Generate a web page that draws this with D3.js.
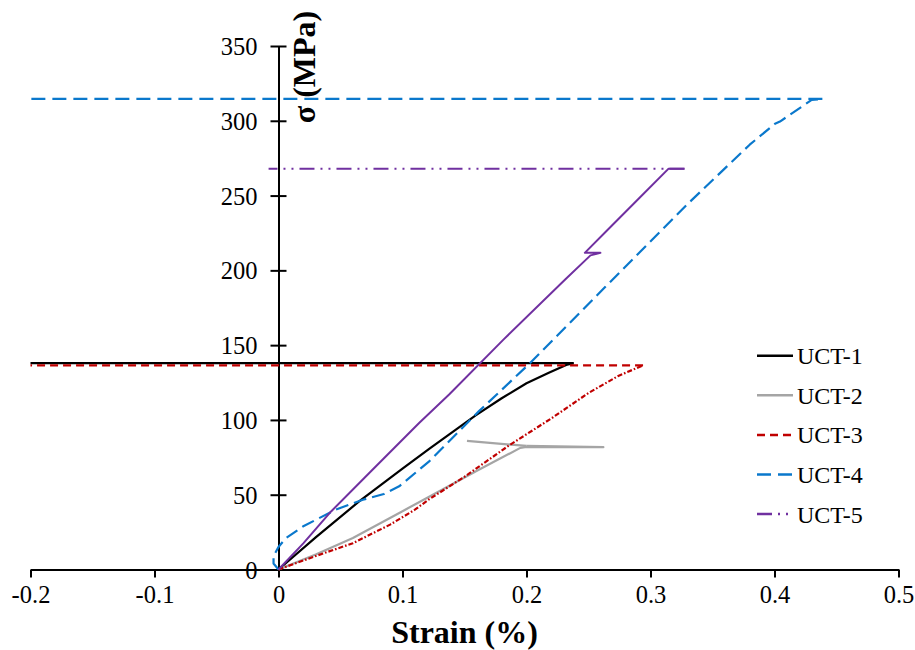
<!DOCTYPE html>
<html>
<head>
<meta charset="utf-8">
<script src="https://cdn.jsdelivr.net/npm/d3@7/dist/d3.min.js"></script>
<style>
  html, body { margin: 0; padding: 0; background: #fff; }
  svg { display: block; }
  text { font-family: "Liberation Serif", "Times New Roman", serif; fill: #000; }
</style>
</head>
<body>
<svg id="chart" width="915" height="650"></svg>
<script>
// ---------------- DATA ----------------
const seriesNames = ["UCT-1", "UCT-2", "UCT-3", "UCT-4", "UCT-5"];

const uct1Strain = [0, 0.03, 0.065, 0.1, 0.1215, 0.159, 0.18, 0.2, 0.218, 0.232, 0.238, -0.2];
const uct1Stress = [0, 21.5, 45.5, 67.5, 80.7, 103, 114.5, 124.5, 131.5, 136.8, 138, 138];

const uct2Strain = [0, 0.03, 0.06, 0.1, 0.1215, 0.16, 0.195, 0.2, 0.262, 0.2, 0.152];
const uct2Stress = [0, 10, 21, 39, 48.7, 66, 81.3, 82, 81.8, 82.6, 86];

const uct3Strain = [0, 0.01, 0.03, 0.06, 0.09, 0.11, 0.1215, 0.15, 0.186, 0.22, 0.25, 0.274, 0.294, -0.2];
const uct3Stress = [0, 3, 9, 17.6, 30, 40, 47, 62, 83, 101, 118, 129.4, 136.5, 136.5];

const uct4Strain = [0, -0.004, -0.004, 0, 0.006, 0.0196, 0.046, 0.068, 0.085, 0.0973, 0.1215, 0.1617, 0.2019, 0.2207, 0.2636, 0.3307, 0.38, 0.4004, 0.4044, 0.43, 0.4386, -0.2];
const uct4Stress = [0, 4, 9, 15, 21, 28.7, 40, 46.6, 50.5, 55.6, 72.3, 105.9, 137.2, 152.9, 189, 245, 284, 298, 299.5, 314, 314.6, 314.6];

const uct5Strain = [0, 0.02, 0.0424, 0.075, 0.1134, 0.1376, 0.1818, 0.2314, 0.2516, 0.2596, 0.247, 0.2647, 0.29, 0.3146, 0.3274, -0.008];
const uct5Stress = [0, 17.5, 38.8, 66, 98, 117, 154, 194, 210, 211.7, 211.7, 226.5, 247.5, 268, 268, 268];

const xTicks = [-0.2, -0.1, 0, 0.1, 0.2, 0.3, 0.4, 0.5];
const yTicks = [0, 50, 100, 150, 200, 250, 300, 350];
const xTitle = "Strain (%)";
const yTitle = "σ (MPa)";

// ---------------- STYLES ----------------
const styles = [
  { color: "#000000", curveDash: null, lineDash: null, width: 2.2 },
  { color: "#a5a5a5", curveDash: null, lineDash: null, width: 2.2 },
  { color: "#c00000", curveDash: "5,2,1.6,2", lineDash: "8,5", width: 2.2 },
  { color: "#0a78cc", curveDash: "13,6", lineDash: "14,7", width: 2.2 },
  { color: "#7030a0", curveDash: null, lineDash: "15,6,2,6,2,6", width: 2.0 }
];

const strains = [uct1Strain, uct2Strain, uct3Strain, uct4Strain, uct5Strain];
const stresses = [uct1Stress, uct2Stress, uct3Stress, uct4Stress, uct5Stress];

// ---------------- CHART ----------------
const svg = d3.select("#chart");
const x = d3.scaleLinear().domain([-0.2, 0.5]).range([30.5, 898.5]);
const y = d3.scaleLinear().domain([0, 350]).range([569.5, 46]);

const line = d3.line().x(d => x(d[0])).y(d => y(d[1]));
const fmtX = d => d === 0 ? "0" : d3.format(".1f")(d).replace("\u2212", "-");

// Axes
const xAxisG = svg.append("g").attr("transform", `translate(0,${y(0)})`)
  .call(d3.axisBottom(x).tickValues(xTicks).tickSize(8).tickSizeOuter(0).tickFormat(fmtX));
xAxisG.select(".domain").attr("stroke", "#000").attr("stroke-width", 2);
xAxisG.selectAll(".tick line").attr("stroke", "#000").attr("stroke-width", 2);
xAxisG.selectAll(".tick text").attr("font-size", "24.5px").attr("font-family", "Liberation Serif")
  .attr("fill", "#000").attr("y", 16).attr("dy", "0.71em");

const yAxisG = svg.append("g").attr("transform", `translate(${x(0)},0)`)
  .call(d3.axisLeft(y).tickValues(yTicks).tickSize(8).tickSizeOuter(0).tickFormat(d3.format("d")));
yAxisG.select(".domain").attr("stroke", "#000").attr("stroke-width", 2);
yAxisG.selectAll(".tick line").attr("stroke", "#000").attr("stroke-width", 2).attr("x2", 8).attr("x1", -8);
yAxisG.selectAll(".tick text").attr("font-size", "24.5px").attr("font-family", "Liberation Serif")
  .attr("fill", "#000").attr("x", -21).attr("dy", "0.35em");

// Series
const plotG = svg.append("g");
seriesNames.forEach((name, i) => {
  const pts = strains[i].map((s, k) => [s, stresses[i][k]]);
  const st = styles[i];
  const curvePts = pts.slice(0, pts.length - 1);
  const retPts = pts.slice(pts.length - 2);
  plotG.append("path").datum(curvePts)
    .attr("d", line).attr("fill", "none").attr("stroke", st.color)
    .attr("stroke-width", st.width).attr("stroke-dasharray", st.curveDash)
    .attr("stroke-linejoin", "round");
  plotG.append("path").datum(retPts)
    .attr("d", line).attr("fill", "none").attr("stroke", st.color)
    .attr("stroke-width", st.width).attr("stroke-dasharray", st.lineDash);
});

// Titles
svg.append("text").attr("x", x(0.15)).attr("y", 643)
  .attr("text-anchor", "middle").attr("font-weight", "bold").attr("font-size", "32px")
  .text(xTitle);
svg.append("text").attr("transform", "translate(304,67) rotate(-90)")
  .attr("text-anchor", "middle").attr("dy", "0.35em")
  .attr("font-weight", "bold").attr("font-size", "32px")
  .text(yTitle);

// Legend
const legend = svg.append("g");
seriesNames.forEach((name, i) => {
  const cy = 355.7 + i * 39.6;
  const st = styles[i];
  legend.append("line").attr("x1", 757).attr("x2", 793).attr("y1", cy).attr("y2", cy)
    .attr("stroke", st.color).attr("stroke-width", 2.5).attr("stroke-dasharray", st.lineDash);
  legend.append("text").attr("x", 797).attr("y", cy).attr("dy", "0.35em")
    .attr("font-size", "24px").text(name);
});
</script>
</body>
</html>
